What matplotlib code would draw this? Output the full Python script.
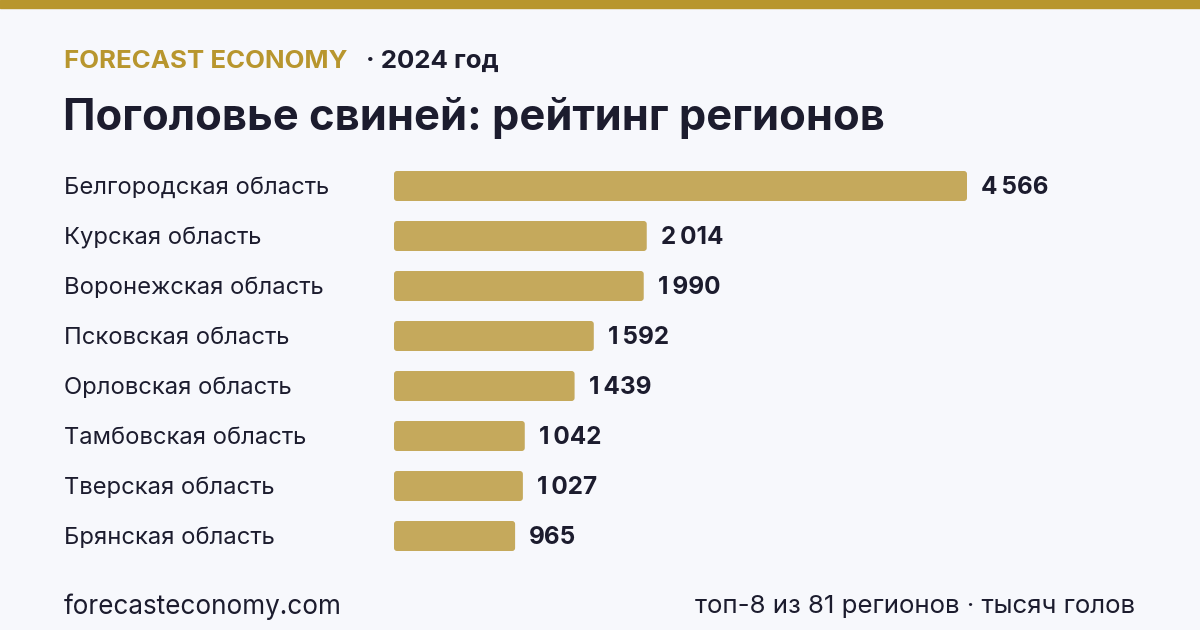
import matplotlib
matplotlib.use('Agg')
import matplotlib.pyplot as plt
from matplotlib.patches import FancyBboxPatch

plt.rcParams['font.family'] = ['Inter', 'DejaVu Sans']

# data: pig population, thousand heads, 2024
regions = ['Белгородская область', 'Курская область', 'Воронежская область',
           'Псковская область', 'Орловская область', 'Тамбовская область',
           'Тверская область', 'Брянская область']
values = [4566, 2014, 1990, 1592, 1439, 1042, 1027, 965]
value_labels = ['4\u2009566', '2\u2009014', '1\u2009990', '1\u2009592',
                '1\u2009439', '1\u2009042', '1\u2009027', '965']

BG = '#F7F8FC'
GOLD = '#B8962E'
BAR = '#C5A95C'
DARK = '#1C1C2E'

W, H = 1200, 630
fig = plt.figure(figsize=(12, 6.3), dpi=100, facecolor=BG)

# top stripe
fig.patches.append(plt.Rectangle((0, 1 - 8 / H), 1, 8 / H, transform=fig.transFigure,
                                 color=GOLD, zorder=0))

# header
fig.text(64 / W, 1 - 61 / H, 'FORECAST ECONOMY', color=GOLD, fontsize=18.6,
         fontweight='bold', va='center', ha='left')
fig.text(366 / W, 1 - 61 / H, '· 2024 год', color=DARK, fontsize=18.6,
         fontweight='bold', va='center', ha='left')
fig.text(63 / W, 1 - 118 / H, 'Поголовье свиней: рейтинг регионов', color=DARK,
         fontsize=31.3, fontweight='bold', va='center', ha='left')

# bars
x0 = 394
px_per_unit = 573 / max(values)
ax_w = 700
ax = fig.add_axes([x0 / W, 69 / H, ax_w / W, 400 / H])
ax.set_facecolor('none')
ax.set_xlim(0, ax_w / px_per_unit)
ax.set_ylim(len(values) - 0.5, -0.5)
ax.axis('off')

ypos = list(range(len(values)))
bars = ax.barh(ypos, values, height=0.6, color=BAR)
x_unit = 1 / px_per_unit   # data units per pixel, x
y_unit = 1 / 50            # data units per pixel, y
for b in bars:
    b.set_visible(False)
    ax.add_patch(FancyBboxPatch((b.get_x(), b.get_y()), b.get_width(), b.get_height(),
                                boxstyle='round,pad=0,rounding_size=%f' % (3 * x_unit),
                                mutation_aspect=y_unit / x_unit,
                                facecolor=BAR, edgecolor='none'))

for y, v, lab, name in zip(ypos, values, value_labels, regions):
    ax.text(v + 14 * x_unit, y + 0.02, lab, color=DARK, fontsize=17.5, fontweight='bold',
            va='center', ha='left')
    fig.text(64 / W, 1 - (188 + 50 * y) / H, name, color=DARK, fontsize=17.1,
             va='center', ha='left')

# footer
fig.text(64 / W, 1 - 607 / H, 'forecasteconomy.com', color=DARK, fontsize=18.8,
         va='center', ha='left')
fig.text(1135 / W, 1 - 607 / H, 'топ-8 из 81 регионов · тысяч голов', color=DARK,
         fontsize=18.6, va='center', ha='right')

fig.savefig('out.png', dpi=100, facecolor=BG)
